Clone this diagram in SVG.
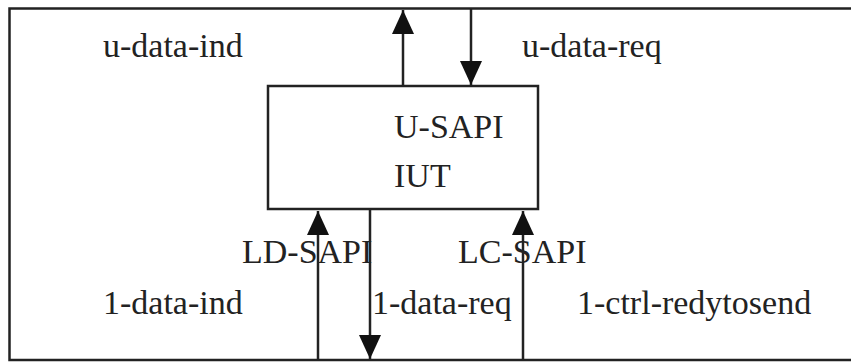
<svg xmlns="http://www.w3.org/2000/svg" width="851" height="362" viewBox="0 0 851 362">
<style>
.ln{stroke:#222;stroke-width:2.5;fill:none}
.t{font-family:"Liberation Serif","Times New Roman",serif;font-size:34px;fill:#222}
</style>
<defs>
<marker id="ah" markerUnits="userSpaceOnUse" markerWidth="24" markerHeight="26" viewBox="0 0 24 26" refX="24" refY="12" orient="auto">
<path d="M0,1 L24,12 L0,23 Z" fill="#111"/>
</marker>
</defs>
<g id="frame">
<path class="ln" d="M860,8.5 H9.5 V360 H860"/>
</g>
<g id="iut">
<rect class="ln" x="268" y="86" width="270" height="123"/>
<text class="t" x="394" y="138">U-SAPI</text>
<text class="t" x="394" y="187">IUT</text>
</g>
<g id="connectors">
<line class="ln" x1="403" y1="86" x2="403" y2="10" marker-end="url(#ah)"/>
<line class="ln" x1="471" y1="9" x2="471" y2="85" marker-end="url(#ah)"/>
<line class="ln" x1="318" y1="360" x2="318" y2="211" marker-end="url(#ah)"/>
<line class="ln" x1="370" y1="209" x2="370" y2="359" marker-end="url(#ah)"/>
<line class="ln" x1="523" y1="360" x2="523" y2="211" marker-end="url(#ah)"/>
</g>
<g id="labels">
<text class="t" x="103" y="57">u-data-ind</text>
<text class="t" x="522" y="57">u-data-req</text>
<text class="t" x="242" y="263">LD-SAPI</text>
<text class="t" x="458" y="263">LC-SAPI</text>
<text class="t" x="103" y="314">1-data-ind</text>
<text class="t" x="372" y="314">1-data-req</text>
<text class="t" x="577" y="314">1-ctrl-redytosend</text>
</g>
</svg>
